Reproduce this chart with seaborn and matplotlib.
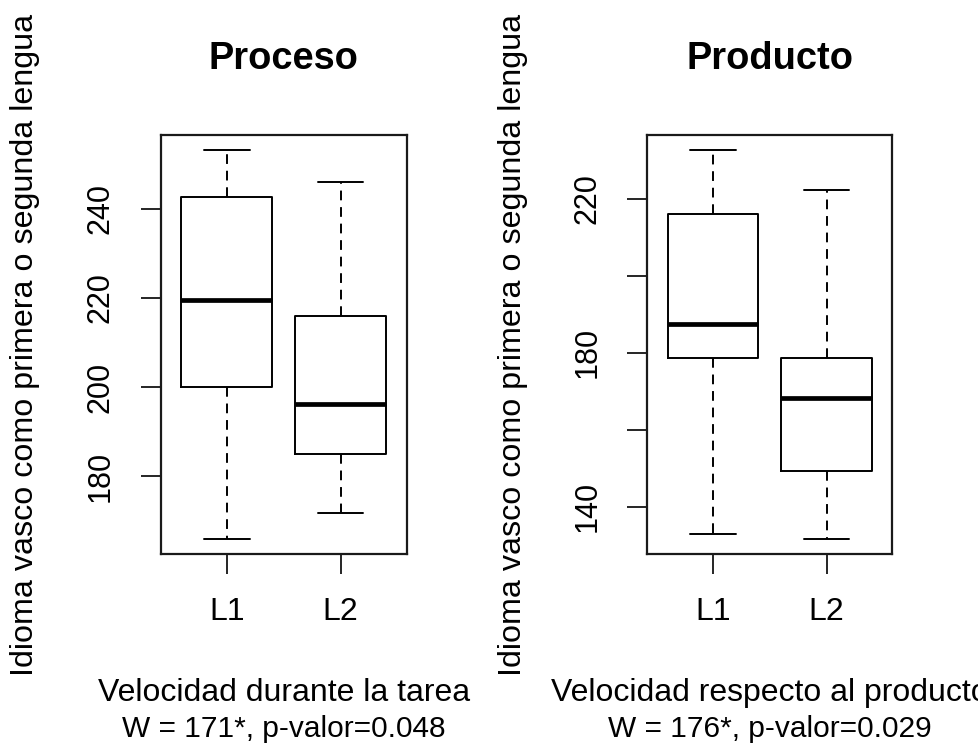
import numpy as np
import pandas as pd
import matplotlib
matplotlib.use("Agg")
import matplotlib.pyplot as plt
import seaborn as sns

# Five-number summaries (min, Q1, median, Q3, max) per group
grupos = ["L1", "L2"]
proceso_l1 = [165.9, 200.0, 219.5, 242.8, 253.2]
proceso_l2 = [171.8, 184.9, 196.1, 215.9, 246.1]
producto_l1 = [132.9, 178.6, 187.4, 216.0, 232.6]
producto_l2 = [131.7, 149.2, 168.2, 178.7, 222.3]

titulos = ["Proceso", "Producto"]
etiqueta_y = "Idioma vasco como primera o segunda lengua"
etiquetas_x = ["Velocidad durante la tarea", "Velocidad respecto al producto"]
pruebas = ["W = 171*, p-valor=0.048", "W = 176*, p-valor=0.029"]
ticks_proceso = [180, 200, 220, 240]
ticks_producto = [140, 160, 180, 200, 220]
labels_producto = ["140", "", "180", "", "220"]

sns.set_theme(style="white")
font = "Liberation Sans"
plt.rcParams["font.family"] = [font, "DejaVu Sans"]
plt.rcParams["text.color"] = "black"
plt.rcParams["xtick.color"] = "black"
plt.rcParams["ytick.color"] = "black"
plt.rcParams["axes.labelcolor"] = "black"

W, H = 979, 745
fig = plt.figure(figsize=(W / 100, H / 100), dpi=100)


def frac_x(px):
    return px / W


def frac_y(py):
    return 1 - py / H


axes_px = [(160.7, 406.7), (647.3, 892.3)]
top_px, bottom_px = 134.7, 554.3

datasets = [(proceso_l1, proceso_l2), (producto_l1, producto_l2)]
ticks = [(ticks_proceso, [str(t) for t in ticks_proceso]),
         (ticks_producto, labels_producto)]
ylabel_x_px = [25.5, 513.5]

dash = (0, (5, 3.5))
lw = 1.4

for i, ((x0, x1), (a, b)) in enumerate(zip(axes_px, datasets)):
    ax = fig.add_axes([frac_x(x0), frac_y(bottom_px),
                       frac_x(x1 - x0), (bottom_px - top_px) / H])
    df = pd.DataFrame({
        "grupo": [grupos[0]] * len(a) + [grupos[1]] * len(b),
        "valor": list(a) + list(b),
    })
    sns.boxplot(data=df, x="grupo", y="valor", ax=ax, whis=np.inf,
                width=0.8, fill=False, color="black", linewidth=lw,
                boxprops=dict(color="black", linewidth=lw),
                whiskerprops=dict(color="black", linewidth=lw, linestyle=dash),
                capprops=dict(color="black", linewidth=lw),
                medianprops=dict(color="black", linewidth=3.4,
                                 solid_capstyle="butt"))

    vals = np.array(list(a) + list(b))
    lo, hi = vals.min(), vals.max()
    span = hi - lo
    ax.set_ylim(lo - 0.04 * span, hi + 0.04 * span)
    ax.set_xlim(-0.58, 1.58)

    tv, tl = ticks[i]
    ax.set_yticks(tv)
    ax.set_yticklabels(tl, rotation=90, va="center", fontsize=22)
    ax.set_xticks([0, 1])
    ax.set_xticklabels(grupos, fontsize=23)
    ax.tick_params(axis="y", length=14.4, width=1.2, pad=18,
                   left=True, color="black")
    ax.tick_params(axis="x", length=14.4, width=1.2, pad=16,
                   bottom=True, color="black")
    ax.set_xlabel("")
    ax.set_ylabel("")
    for sp in ax.spines.values():
        sp.set_visible(True)
        sp.set_color("#1a1a1a")
        sp.set_linewidth(1.6)

    ax.set_title(titulos[i], fontsize=27.4, fontweight="bold", pad=47)

    cx = (x0 + x1) / 2
    fig.text(frac_x(ylabel_x_px[i]), frac_y((top_px + bottom_px) / 2),
             etiqueta_y, rotation=90, ha="center", va="center",
             fontsize=23.2)
    fig.text(frac_x(cx), frac_y(701), etiquetas_x[i], ha="center",
             va="baseline", fontsize=23)
    fig.text(frac_x(cx), frac_y(737), pruebas[i], ha="center",
             va="baseline", fontsize=21.5)

fig.savefig("out.png", dpi=100)
